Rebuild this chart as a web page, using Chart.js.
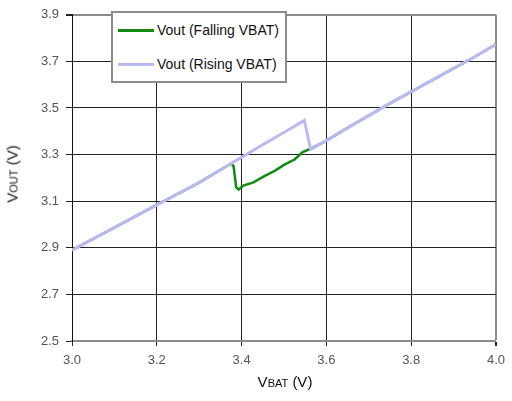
<!DOCTYPE html>
<html>
<head>
<meta charset="utf-8">
<script src="https://cdn.jsdelivr.net/npm/chart.js@4"></script>
<style>
  body { margin: 0; background: #fff; }
  #wrap { position: relative; width: 512px; height: 401px; font-family: "Liberation Sans", Arial, sans-serif; }
  #chart { position: absolute; left: 0; top: 0; }
  .legend { position: absolute; left: 111px; top: 11px; width: 172px; height: 68px; background: #fff; border: 2px solid #8c8c8c; }
  .row { position: absolute; left: 5px; height: 16px; display: flex; align-items: center; font-size: 14px; color: #111; white-space: nowrap; }
  .swatch { width: 36px; margin-right: 3px; }
  .ytitle, .xtitle { position: absolute; font-size: 15px; color: #111; white-space: nowrap; }
  .ytitle { left: 12px; top: 174px; transform: translate(-50%, -50%) rotate(-90deg); }
  .xtitle { left: 285px; top: 381px; transform: translate(-50%, -50%); }
  .sm { font-size: 11px; }
</style>
</head>
<body>
<div id="wrap">
  <canvas id="chart" width="512" height="401"></canvas>
  <div class="legend">
    <div class="row" style="top:9px"><div class="swatch" style="border-top:3px solid #108a10"></div>Vout (Falling VBAT)</div>
    <div class="row" style="top:43px"><div class="swatch" style="border-top:3px solid #b9b9f3"></div>Vout (Rising VBAT)</div>
  </div>
  <div class="ytitle">V<span class="sm">OUT</span> (V)</div>
  <div class="xtitle">V<span class="sm">BAT</span> (V)</div>
</div>
<script>
const xTicks = [3.0, 3.2, 3.4, 3.6, 3.8, 4.0];
const yTicks = [2.5, 2.7, 2.9, 3.1, 3.3, 3.5, 3.7, 3.9];

// rising VBAT sweep
const risingX = [3.0, 3.1, 3.2, 3.3, 3.375, 3.45, 3.52, 3.548, 3.556, 3.563, 3.6, 3.65, 3.75, 3.85, 3.95, 4.0];
const risingY = [2.89, 2.987, 3.084, 3.18, 3.262, 3.342, 3.416, 3.447, 3.38, 3.323, 3.36, 3.415, 3.52, 3.62, 3.72, 3.773];

// falling VBAT sweep (mostly hidden under the rising trace)
const fallingX = [4.0, 3.95, 3.85, 3.75, 3.65, 3.6, 3.564, 3.544, 3.525, 3.502, 3.478, 3.455, 3.428, 3.404, 3.393, 3.387, 3.385, 3.381, 3.375, 3.3, 3.2, 3.1, 3.0];
const fallingY = [3.773, 3.72, 3.62, 3.52, 3.415, 3.36, 3.326, 3.311, 3.279, 3.258, 3.23, 3.209, 3.181, 3.167, 3.15, 3.16, 3.195, 3.251, 3.262, 3.18, 3.084, 2.987, 2.89];

const pts = (xs, ys) => xs.map((x, i) => ({ x, y: ys[i] }));
const near = (a, b) => Math.abs(a - b) < 1e-6;

new Chart(document.getElementById("chart"), {
  type: "line",
  data: {
    datasets: [
      {
        label: "Vout (Rising VBAT)",
        data: pts(risingX, risingY),
        borderColor: "#b9b9f3",
        borderWidth: 3,
        pointRadius: 0,
        tension: 0
      },
      {
        label: "Vout (Falling VBAT)",
        data: pts(fallingX, fallingY),
        borderColor: "#108a10",
        borderWidth: 2.5,
        pointRadius: 0,
        tension: 0
      }
    ]
  },
  options: {
    responsive: false,
    animation: false,
    layout: { padding: { top: 10, right: 11, left: 0, bottom: 0 } },
    plugins: { legend: { display: false }, tooltip: { enabled: false } },
    scales: {
      x: {
        type: "linear",
        min: 3.0,
        max: 4.0,
        afterBuildTicks: s => { s.ticks = xTicks.map(v => ({ value: v })); },
        afterFit: s => { s.height = 60; },
        ticks: {
          callback: v => v.toFixed(1),
          color: "#555",
          font: { family: "Liberation Sans", size: 13 },
          padding: 7,
          maxRotation: 0
        },
        grid: {
          color: c => near(c.tick.value, 4.0) ? "#8c8c8c" : "#222",
          lineWidth: c => near(c.tick.value, 4.0) ? 2 : 1,
          tickLength: 5,
          tickColor: "#222"
        },
        border: { color: "#8c8c8c", width: 2 }
      },
      y: {
        type: "linear",
        min: 2.5,
        max: 3.9,
        afterBuildTicks: s => { s.ticks = yTicks.map(v => ({ value: v })); },
        afterFit: s => { s.width = 72; },
        ticks: {
          callback: v => v.toFixed(1),
          color: "#555",
          font: { family: "Liberation Sans", size: 13 },
          padding: 7
        },
        grid: {
          color: c => near(c.tick.value, 3.9) ? "#8c8c8c" : "#222",
          lineWidth: c => near(c.tick.value, 3.9) ? 2 : 1,
          tickLength: 6,
          tickColor: "#222"
        },
        border: { color: "#111", width: 1 }
      }
    }
  }
});
</script>
</body>
</html>
